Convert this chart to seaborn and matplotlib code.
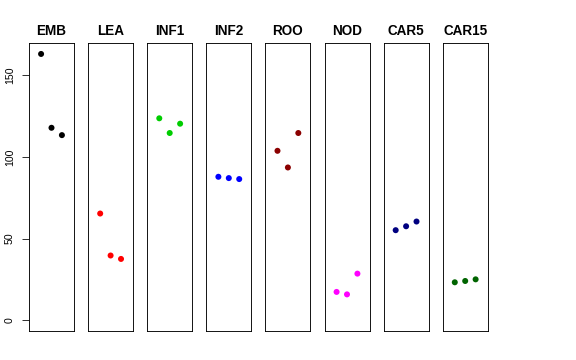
import pandas as pd
import seaborn as sns
import matplotlib.pyplot as plt

# ---- data ----
tissues = ['EMB', 'LEA', 'INF1', 'INF2', 'ROO', 'NOD', 'CAR5', 'CAR15']
rep1 = [163.1, 65.4, 123.7, 87.9, 103.8, 17.4, 55.2, 23.3]
rep2 = [117.9, 39.7, 114.7, 87.1, 93.6, 15.9, 57.6, 24.1]
rep3 = [113.4, 37.6, 120.4, 86.5, 114.7, 28.6, 60.5, 25.1]
colors = ['black', 'red', '#00CD00', 'blue', '#8B0000', 'magenta', '#000080', '#006400']

# long table: one row per point
rows = []
for t, a, b, c in zip(tissues, rep1, rep2, rep3):
    for i, v in enumerate([a, b, c]):
        rows.append({'tissue': t, 'rep': i + 1, 'value': v})
df = pd.DataFrame(rows)

sns.set_style("white", rc={'ytick.left': True, 'ytick.major.size': 7,
                           'ytick.major.width': 0.8, 'ytick.color': 'black',
                           'text.color': 'black'})
plt.rcParams['font.family'] = ['Liberation Sans', 'DejaVu Sans']

fig = plt.figure(figsize=(8, 5), dpi=72)

ymax = max(rep1 + rep2 + rep3)
ypad = ymax * 0.04

# panel geometry in pixels (R-style mfrow layout)
left0, width, step = 29, 45, 59.1
bottom, top = 331, 43.3

for k, t in enumerate(tissues):
    ax = fig.add_axes([(left0 + k * step) / 576, (360 - bottom) / 360,
                       width / 576, (bottom - top) / 360])
    sub = df[df['tissue'] == t]
    sns.scatterplot(data=sub, x='rep', y='value', color=colors[k], s=36,
                    edgecolor='none', ax=ax)
    ax.set_xlim(-0.16, 4.16)
    ax.set_ylim(-ypad, ymax + ypad)
    ax.set_xticks([])
    ax.set_xlabel('')
    ax.set_ylabel('')
    ax.set_title(t, fontsize=13.5, fontweight='bold', pad=8, color='black')
    for s in ax.spines.values():
        s.set_color('black')
        s.set_linewidth(0.9)
    if k == 0:
        ax.set_yticks([0, 50, 100, 150])
        ax.tick_params(axis='y', which='major', direction='out', length=7,
                       width=0.8, pad=7, labelsize=10.5, left=True,
                       color='black', labelcolor='black')
        for lab in ax.get_yticklabels():
            lab.set_rotation(90)
            lab.set_va('center')
    else:
        ax.set_yticks([])

fig.savefig('out.png', dpi=72)
